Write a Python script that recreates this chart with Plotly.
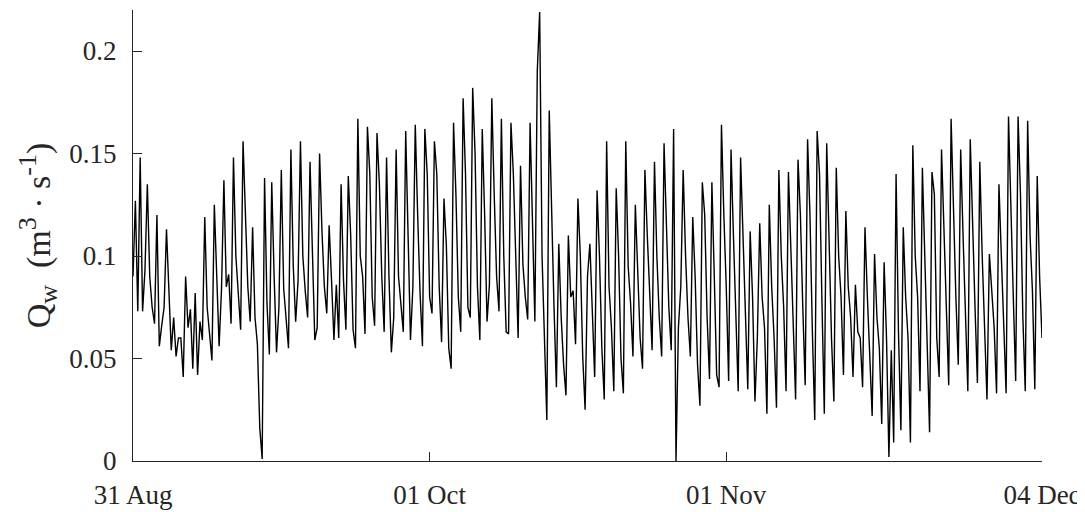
import pandas as pd
import plotly.graph_objects as go

start_time = "2015-08-31 00:00"
sample_step = "6h"

# Qw (m3/s), 6-hourly samples, one row per day
qw_aug_sep = [
    0.090, 0.127, 0.073, 0.148,
    0.073, 0.093, 0.135, 0.090,
    0.075, 0.067, 0.120, 0.056,
    0.066, 0.075, 0.113, 0.080,
    0.054, 0.070, 0.051, 0.060,
    0.060, 0.041, 0.090, 0.065,
    0.074, 0.045, 0.082, 0.042,
    0.068, 0.059, 0.119, 0.075,
    0.061, 0.049, 0.125, 0.090,
    0.056, 0.084, 0.137, 0.085,
    0.091, 0.067, 0.148, 0.100,
    0.082, 0.064, 0.156, 0.118,
    0.085, 0.068, 0.114, 0.070,
    0.057, 0.016, 0.001, 0.138,
    0.077, 0.052, 0.136, 0.090,
    0.053, 0.075, 0.142, 0.084,
    0.070, 0.055, 0.152, 0.095,
    0.068, 0.088, 0.156, 0.100,
    0.083, 0.070, 0.146, 0.100,
    0.059, 0.065, 0.150, 0.112,
    0.085, 0.072, 0.115, 0.088,
    0.059, 0.086, 0.060, 0.135,
    0.088, 0.064, 0.139, 0.110,
    0.064, 0.055, 0.167, 0.100,
    0.090, 0.062, 0.163, 0.140,
    0.080, 0.066, 0.160, 0.135,
    0.090, 0.063, 0.148, 0.090,
    0.053, 0.070, 0.152, 0.090,
    0.075, 0.063, 0.161, 0.110,
    0.059, 0.085, 0.164, 0.120,
    0.082, 0.056, 0.162, 0.140,
]

qw_oct = [
    0.080, 0.072, 0.156, 0.140,
    0.085, 0.058, 0.128, 0.105,
    0.055, 0.045, 0.165, 0.130,
    0.080, 0.063, 0.177, 0.140,
    0.075, 0.070, 0.182, 0.150,
    0.085, 0.059, 0.162, 0.120,
    0.068, 0.086, 0.177, 0.130,
    0.090, 0.073, 0.167, 0.100,
    0.063, 0.062, 0.165, 0.140,
    0.100, 0.060, 0.144, 0.096,
    0.080, 0.069, 0.165, 0.120,
    0.068, 0.190, 0.219, 0.100,
    0.063, 0.020, 0.171, 0.120,
    0.075, 0.036, 0.106, 0.070,
    0.047, 0.032, 0.110, 0.080,
    0.083, 0.057, 0.128, 0.100,
    0.051, 0.025, 0.090, 0.106,
    0.070, 0.041, 0.132, 0.100,
    0.055, 0.030, 0.156, 0.085,
    0.065, 0.034, 0.133, 0.100,
    0.050, 0.033, 0.156, 0.095,
    0.077, 0.051, 0.125, 0.088,
    0.060, 0.045, 0.142, 0.110,
    0.080, 0.054, 0.146, 0.100,
    0.070, 0.051, 0.155, 0.110,
    0.075, 0.054, 0.162, 0.000,
    0.065, 0.085, 0.142, 0.100,
    0.070, 0.051, 0.119, 0.090,
    0.047, 0.027, 0.136, 0.120,
    0.070, 0.040, 0.136, 0.090,
    0.042, 0.036, 0.164, 0.120,
]

qw_nov = [
    0.085, 0.039, 0.152, 0.110,
    0.068, 0.034, 0.148, 0.110,
    0.080, 0.035, 0.112, 0.080,
    0.029, 0.060, 0.116, 0.080,
    0.065, 0.023, 0.125, 0.085,
    0.060, 0.026, 0.142, 0.100,
    0.075, 0.034, 0.141, 0.100,
    0.063, 0.030, 0.147, 0.120,
    0.075, 0.037, 0.157, 0.120,
    0.063, 0.020, 0.161, 0.140,
    0.078, 0.023, 0.155, 0.110,
    0.060, 0.029, 0.143, 0.100,
    0.080, 0.042, 0.122, 0.085,
    0.070, 0.041, 0.086, 0.063,
    0.060, 0.036, 0.114, 0.080,
    0.050, 0.022, 0.101, 0.070,
    0.055, 0.018, 0.097, 0.060,
    0.002, 0.054, 0.009, 0.140,
    0.063, 0.015, 0.114, 0.080,
    0.060, 0.009, 0.154, 0.100,
    0.080, 0.034, 0.143, 0.100,
    0.060, 0.014, 0.141, 0.130,
    0.060, 0.041, 0.152, 0.110,
    0.075, 0.037, 0.167, 0.120,
    0.080, 0.047, 0.152, 0.110,
    0.070, 0.034, 0.157, 0.110,
    0.075, 0.038, 0.146, 0.100,
    0.060, 0.030, 0.101, 0.085,
    0.065, 0.033, 0.135, 0.100,
    0.068, 0.033, 0.168, 0.120,
]

qw_dec = [
    0.080, 0.039, 0.168, 0.130,
    0.070, 0.034, 0.166, 0.110,
    0.083, 0.035, 0.139, 0.090,
    0.060,
]

tick_dates = ["2015-08-31", "2015-10-01", "2015-11-01", "2015-12-04"]
tick_labels = ["31 Aug", "01 Oct", "01 Nov", "04 Dec"]
y_ticks = [0, 0.05, 0.1, 0.15, 0.2]
y_tick_labels = ["0", "0.05", "0.1", "0.15", "0.2"]

qw = qw_aug_sep + qw_oct + qw_nov + qw_dec
times = pd.date_range(start_time, periods=len(qw), freq=sample_step)

axis_color = "#262626"
serif = '"Liberation Serif", "Times New Roman", Times, serif'
tick_font = dict(family=serif, size=27, color=axis_color)

small = "<span style='font-size:26px'>{}</span>"
y_title = ("Q<sub>" + small.format("w") + "</sub>  (m<sup>" + small.format("3")
           + "</sup> · s<sup>" + small.format("-1") + "</sup>)")

fig = go.Figure(
    go.Scatter(x=times, y=qw, mode="lines",
               line=dict(color="black", width=1.4), showlegend=False)
)

# page body adds an 8 px offset, so the figure is 8 px smaller each way
fig.update_layout(
    width=1077, height=504,
    margin=dict(l=125, r=43, t=2, b=48),
    paper_bgcolor="white", plot_bgcolor="white",
    font=dict(family=serif, size=27, color=axis_color),
)
fig.update_xaxes(
    range=[tick_dates[0], tick_dates[-1]],
    tickvals=tick_dates, ticktext=tick_labels, tickfont=tick_font,
    showline=True, linecolor=axis_color, linewidth=1,
    ticks="inside", ticklen=9, tickcolor=axis_color,
    ticklabelstandoff=10,
    showgrid=False, zeroline=False,
)
fig.update_yaxes(
    range=[0, 0.22],
    tickvals=y_ticks, ticktext=y_tick_labels, tickfont=tick_font,
    showline=True, linecolor=axis_color, linewidth=1,
    ticks="inside", ticklen=9, tickcolor=axis_color,
    ticklabelstandoff=10,
    showgrid=False, zeroline=False,
    title=dict(text=y_title,
               font=dict(family=serif, size=34, color=axis_color), standoff=8),
)

fig.write_html("out.html")
